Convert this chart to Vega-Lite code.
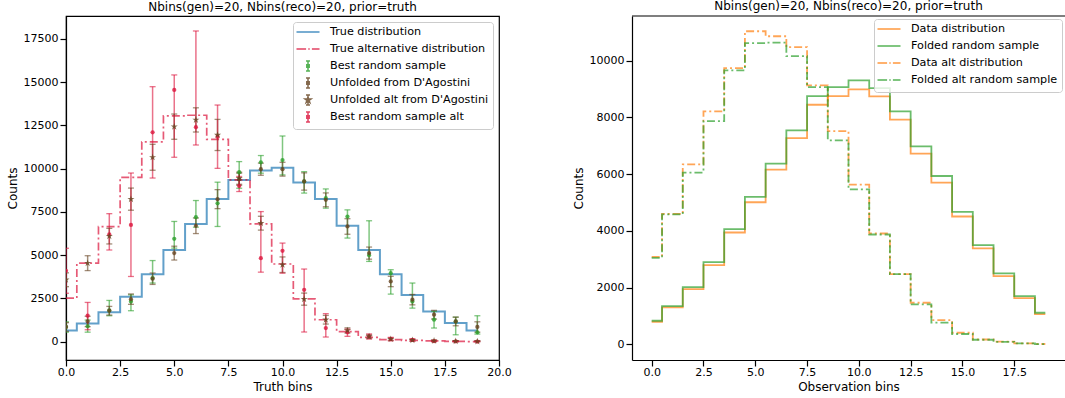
{
"$schema": "https://vega.github.io/schema/vega-lite/v6.json",
"padding": {"left": 5, "right": 0, "top": 0, "bottom": 0},
"spacing": 60,
"resolve": {"scale": {"color": "independent", "shape": "independent"}, "legend": {"color": "independent", "shape": "independent"}},
"config": {
  "font": "DejaVu Sans",
  "view": {"stroke": "black", "strokeWidth": 1.2},
  "axis": {"labelFont": "DejaVu Sans", "labelFontSize": 11, "labelColor": "black", "titleFont": "DejaVu Sans", "titleFontSize": 12, "titleFontWeight": "normal", "titleColor": "black", "tickColor": "black", "tickSize": 6, "tickWidth": 1.2, "domainColor": "black", "domainWidth": 1.2, "grid": false, "labelPadding": 2, "labelFlush": false, "titlePadding": 4},
  "axisX": {"labelPadding": 0},
  "title": {"font": "DejaVu Sans", "fontSize": 12, "fontWeight": "normal", "color": "black", "offset": 2},
  "legend": {"labelFont": "DejaVu Sans", "labelFontSize": 11.2, "labelColor": "black", "symbolStrokeWidth": 1.5, "padding": 4, "rowPadding": 1, "strokeColor": "#cccccc", "fillColor": "rgba(255,255,255,0.8)", "cornerRadius": 3, "labelOffset": 16, "symbolOffset": 5, "symbolSize": 100, "offset": 5, "orient": "top-right", "labelLimit": 0, "symbolOpacity": 0.8}
},
"datasets": {
  "left": [
    {"s": "True distribution", "x": 0, "v": 650}, {"s": "True distribution", "x": 1, "v": 1050}, {"s": "True distribution", "x": 2, "v": 1700}, {"s": "True distribution", "x": 3, "v": 2600}, {"s": "True distribution", "x": 4, "v": 3900}, {"s": "True distribution", "x": 5, "v": 5300}, {"s": "True distribution", "x": 6, "v": 6800}, {"s": "True distribution", "x": 7, "v": 8250}, {"s": "True distribution", "x": 8, "v": 9350}, {"s": "True distribution", "x": 9, "v": 9900}, {"s": "True distribution", "x": 10, "v": 10050}, {"s": "True distribution", "x": 11, "v": 9200}, {"s": "True distribution", "x": 12, "v": 8250}, {"s": "True distribution", "x": 13, "v": 6700}, {"s": "True distribution", "x": 14, "v": 5300}, {"s": "True distribution", "x": 15, "v": 3900}, {"s": "True distribution", "x": 16, "v": 2700}, {"s": "True distribution", "x": 17, "v": 1750}, {"s": "True distribution", "x": 18, "v": 1080}, {"s": "True distribution", "x": 19, "v": 650},
    {"s": "True alternative distribution", "x": 0, "v": 2520}, {"s": "True alternative distribution", "x": 1, "v": 4540}, {"s": "True alternative distribution", "x": 2, "v": 6650}, {"s": "True alternative distribution", "x": 3, "v": 9500}, {"s": "True alternative distribution", "x": 4, "v": 11550}, {"s": "True alternative distribution", "x": 5, "v": 13050}, {"s": "True alternative distribution", "x": 6, "v": 13090}, {"s": "True alternative distribution", "x": 7, "v": 11700}, {"s": "True alternative distribution", "x": 8, "v": 9350}, {"s": "True alternative distribution", "x": 9, "v": 6810}, {"s": "True alternative distribution", "x": 10, "v": 4490}, {"s": "True alternative distribution", "x": 11, "v": 2480}, {"s": "True alternative distribution", "x": 12, "v": 1270}, {"s": "True alternative distribution", "x": 13, "v": 580}, {"s": "True alternative distribution", "x": 14, "v": 250}, {"s": "True alternative distribution", "x": 15, "v": 120}, {"s": "True alternative distribution", "x": 16, "v": 75}, {"s": "True alternative distribution", "x": 17, "v": 45}, {"s": "True alternative distribution", "x": 18, "v": 20}, {"s": "True alternative distribution", "x": 19, "v": 8},
    {"s": "Best random sample", "x": 0, "v": 850, "lo": 550, "hi": 1150}, {"s": "Best random sample", "x": 1, "v": 900, "lo": 550, "hi": 1250}, {"s": "Best random sample", "x": 2, "v": 1810, "lo": 1500, "hi": 2385}, {"s": "Best random sample", "x": 3, "v": 2330, "lo": 1790, "hi": 2710}, {"s": "Best random sample", "x": 4, "v": 3680, "lo": 3390, "hi": 4690}, {"s": "Best random sample", "x": 5, "v": 5950, "lo": 5410, "hi": 6950}, {"s": "Best random sample", "x": 6, "v": 7200, "lo": 6620, "hi": 8160}, {"s": "Best random sample", "x": 7, "v": 8000, "lo": 6660, "hi": 9220}, {"s": "Best random sample", "x": 8, "v": 9800, "lo": 8870, "hi": 10410}, {"s": "Best random sample", "x": 9, "v": 10370, "lo": 9740, "hi": 10760}, {"s": "Best random sample", "x": 10, "v": 10500, "lo": 9640, "hi": 11890}, {"s": "Best random sample", "x": 11, "v": 9260, "lo": 8590, "hi": 9830}, {"s": "Best random sample", "x": 12, "v": 8300, "lo": 7720, "hi": 8830}, {"s": "Best random sample", "x": 13, "v": 7230, "lo": 5990, "hi": 7620}, {"s": "Best random sample", "x": 14, "v": 5000, "lo": 4640, "hi": 6990}, {"s": "Best random sample", "x": 15, "v": 3960, "lo": 2750, "hi": 4160}, {"s": "Best random sample", "x": 16, "v": 2330, "lo": 1940, "hi": 3390}, {"s": "Best random sample", "x": 17, "v": 1270, "lo": 790, "hi": 1750}, {"s": "Best random sample", "x": 18, "v": 1170, "lo": 400, "hi": 1420}, {"s": "Best random sample", "x": 19, "v": 540, "lo": 440, "hi": 1500},
    {"s": "Unfolded from D'Agostini", "x": 0, "v": 850, "lo": 600, "hi": 1100}, {"s": "Unfolded from D'Agostini", "x": 1, "v": 1170, "lo": 870, "hi": 1470}, {"s": "Unfolded from D'Agostini", "x": 2, "v": 1790, "lo": 1540, "hi": 2040}, {"s": "Unfolded from D'Agostini", "x": 3, "v": 2460, "lo": 2160, "hi": 2760}, {"s": "Unfolded from D'Agostini", "x": 4, "v": 3640, "lo": 3310, "hi": 3970}, {"s": "Unfolded from D'Agostini", "x": 5, "v": 5120, "lo": 4720, "hi": 5520}, {"s": "Unfolded from D'Agostini", "x": 6, "v": 6700, "lo": 6250, "hi": 7150}, {"s": "Unfolded from D'Agostini", "x": 7, "v": 8240, "lo": 7690, "hi": 8790}, {"s": "Unfolded from D'Agostini", "x": 8, "v": 9390, "lo": 9040, "hi": 9740}, {"s": "Unfolded from D'Agostini", "x": 9, "v": 9970, "lo": 9620, "hi": 10320}, {"s": "Unfolded from D'Agostini", "x": 10, "v": 9970, "lo": 9570, "hi": 10370}, {"s": "Unfolded from D'Agostini", "x": 11, "v": 9260, "lo": 8760, "hi": 9760}, {"s": "Unfolded from D'Agostini", "x": 12, "v": 8200, "lo": 7800, "hi": 8600}, {"s": "Unfolded from D'Agostini", "x": 13, "v": 6660, "lo": 6210, "hi": 7110}, {"s": "Unfolded from D'Agostini", "x": 14, "v": 5120, "lo": 4770, "hi": 5470}, {"s": "Unfolded from D'Agostini", "x": 15, "v": 3480, "lo": 3180, "hi": 3780}, {"s": "Unfolded from D'Agostini", "x": 16, "v": 2430, "lo": 2130, "hi": 2730}, {"s": "Unfolded from D'Agostini", "x": 17, "v": 1560, "lo": 1310, "hi": 1810}, {"s": "Unfolded from D'Agostini", "x": 18, "v": 1170, "lo": 920, "hi": 1420}, {"s": "Unfolded from D'Agostini", "x": 19, "v": 850, "lo": 550, "hi": 1150},
    {"s": "Unfolded alt from D'Agostini", "x": 0, "v": 3580, "lo": 3180, "hi": 3980}, {"s": "Unfolded alt from D'Agostini", "x": 1, "v": 4540, "lo": 4110, "hi": 4970}, {"s": "Unfolded alt from D'Agostini", "x": 2, "v": 6100, "lo": 5650, "hi": 6550}, {"s": "Unfolded alt from D'Agostini", "x": 3, "v": 8240, "lo": 7600, "hi": 8880}, {"s": "Unfolded alt from D'Agostini", "x": 4, "v": 10660, "lo": 9910, "hi": 11410}, {"s": "Unfolded alt from D'Agostini", "x": 5, "v": 12430, "lo": 11700, "hi": 13160}, {"s": "Unfolded alt from D'Agostini", "x": 6, "v": 12820, "lo": 12120, "hi": 13520}, {"s": "Unfolded alt from D'Agostini", "x": 7, "v": 11950, "lo": 11050, "hi": 12850}, {"s": "Unfolded alt from D'Agostini", "x": 8, "v": 9450, "lo": 9100, "hi": 9800}, {"s": "Unfolded alt from D'Agostini", "x": 9, "v": 6850, "lo": 6450, "hi": 7250}, {"s": "Unfolded alt from D'Agostini", "x": 10, "v": 4450, "lo": 4000, "hi": 4900}, {"s": "Unfolded alt from D'Agostini", "x": 11, "v": 2460, "lo": 2110, "hi": 2810}, {"s": "Unfolded alt from D'Agostini", "x": 12, "v": 1270, "lo": 1020, "hi": 1520}, {"s": "Unfolded alt from D'Agostini", "x": 13, "v": 650, "lo": 500, "hi": 800}, {"s": "Unfolded alt from D'Agostini", "x": 14, "v": 300, "lo": 200, "hi": 400}, {"s": "Unfolded alt from D'Agostini", "x": 15, "v": 150, "lo": 80, "hi": 220}, {"s": "Unfolded alt from D'Agostini", "x": 16, "v": 90, "lo": 40, "hi": 140}, {"s": "Unfolded alt from D'Agostini", "x": 17, "v": 50, "lo": 10, "hi": 90}, {"s": "Unfolded alt from D'Agostini", "x": 18, "v": 30, "lo": 0, "hi": 60}, {"s": "Unfolded alt from D'Agostini", "x": 19, "v": 15, "lo": 0, "hi": 35},
    {"s": "Best random sample alt", "x": 0, "v": 4100, "lo": 2800, "hi": 5400}, {"s": "Best random sample alt", "x": 1, "v": 1500, "lo": 690, "hi": 2270}, {"s": "Best random sample alt", "x": 2, "v": 6200, "lo": 5300, "hi": 7400}, {"s": "Best random sample alt", "x": 3, "v": 6750, "lo": 3770, "hi": 9750}, {"s": "Best random sample alt", "x": 4, "v": 12100, "lo": 9460, "hi": 14740}, {"s": "Best random sample alt", "x": 5, "v": 14550, "lo": 10660, "hi": 15420}, {"s": "Best random sample alt", "x": 6, "v": 12400, "lo": 11370, "hi": 17960}, {"s": "Best random sample alt", "x": 7, "v": 11850, "lo": 10020, "hi": 13680}, {"s": "Best random sample alt", "x": 8, "v": 9000, "lo": 8680, "hi": 9550}, {"s": "Best random sample alt", "x": 9, "v": 4830, "lo": 4020, "hi": 7520}, {"s": "Best random sample alt", "x": 10, "v": 5250, "lo": 3960, "hi": 5700}, {"s": "Best random sample alt", "x": 11, "v": 3000, "lo": 560, "hi": 4200}, {"s": "Best random sample alt", "x": 12, "v": 790, "lo": 270, "hi": 1620}, {"s": "Best random sample alt", "x": 13, "v": 540, "lo": 310, "hi": 730}, {"s": "Best random sample alt", "x": 14, "v": 310, "lo": 150, "hi": 450}, {"s": "Best random sample alt", "x": 15, "v": 150, "lo": 50, "hi": 250}, {"s": "Best random sample alt", "x": 16, "v": 100, "lo": 30, "hi": 170}, {"s": "Best random sample alt", "x": 17, "v": 30, "lo": 0, "hi": 80}, {"s": "Best random sample alt", "x": 18, "v": 20, "lo": 0, "hi": 50}, {"s": "Best random sample alt", "x": 19, "v": 10, "lo": 0, "hi": 40}
  ],
  "leftLegend": [{"s": "True distribution"}, {"s": "True alternative distribution"}, {"s": "Best random sample"}, {"s": "Unfolded from D'Agostini"}, {"s": "Unfolded alt from D'Agostini"}, {"s": "Best random sample alt"}],
  "right": [
    {"s": "Data distribution", "x": 0, "v": 796}, {"s": "Data distribution", "x": 1, "v": 1303}, {"s": "Data distribution", "x": 2, "v": 1947}, {"s": "Data distribution", "x": 3, "v": 2792}, {"s": "Data distribution", "x": 4, "v": 3943}, {"s": "Data distribution", "x": 5, "v": 5011}, {"s": "Data distribution", "x": 6, "v": 6162}, {"s": "Data distribution", "x": 7, "v": 7275}, {"s": "Data distribution", "x": 8, "v": 8450}, {"s": "Data distribution", "x": 9, "v": 8754}, {"s": "Data distribution", "x": 10, "v": 8990}, {"s": "Data distribution", "x": 11, "v": 8743}, {"s": "Data distribution", "x": 12, "v": 7922}, {"s": "Data distribution", "x": 13, "v": 6725}, {"s": "Data distribution", "x": 14, "v": 5704}, {"s": "Data distribution", "x": 15, "v": 4507}, {"s": "Data distribution", "x": 16, "v": 3380}, {"s": "Data distribution", "x": 17, "v": 2405}, {"s": "Data distribution", "x": 18, "v": 1630}, {"s": "Data distribution", "x": 19, "v": 1067},
    {"s": "Folded random sample", "x": 0, "v": 831}, {"s": "Folded random sample", "x": 1, "v": 1349}, {"s": "Folded random sample", "x": 2, "v": 2018}, {"s": "Folded random sample", "x": 3, "v": 2898}, {"s": "Folded random sample", "x": 4, "v": 4060}, {"s": "Folded random sample", "x": 5, "v": 5198}, {"s": "Folded random sample", "x": 6, "v": 6373}, {"s": "Folded random sample", "x": 7, "v": 7546}, {"s": "Folded random sample", "x": 8, "v": 8754}, {"s": "Folded random sample", "x": 9, "v": 9071}, {"s": "Folded random sample", "x": 10, "v": 9306}, {"s": "Folded random sample", "x": 11, "v": 9035}, {"s": "Folded random sample", "x": 12, "v": 8215}, {"s": "Folded random sample", "x": 13, "v": 6982}, {"s": "Folded random sample", "x": 14, "v": 5937}, {"s": "Folded random sample", "x": 15, "v": 4669}, {"s": "Folded random sample", "x": 16, "v": 3496}, {"s": "Folded random sample", "x": 17, "v": 2500}, {"s": "Folded random sample", "x": 18, "v": 1700}, {"s": "Folded random sample", "x": 19, "v": 1113},
    {"s": "Data alt distribution", "x": 0, "v": 3085}, {"s": "Data alt distribution", "x": 1, "v": 4600}, {"s": "Data alt distribution", "x": 2, "v": 6348}, {"s": "Data alt distribution", "x": 3, "v": 8215}, {"s": "Data alt distribution", "x": 4, "v": 9740}, {"s": "Data alt distribution", "x": 5, "v": 11042}, {"s": "Data alt distribution", "x": 6, "v": 10866}, {"s": "Data alt distribution", "x": 7, "v": 10479}, {"s": "Data alt distribution", "x": 8, "v": 9130}, {"s": "Data alt distribution", "x": 9, "v": 7521}, {"s": "Data alt distribution", "x": 10, "v": 5634}, {"s": "Data alt distribution", "x": 11, "v": 3908}, {"s": "Data alt distribution", "x": 12, "v": 2475}, {"s": "Data alt distribution", "x": 13, "v": 1465}, {"s": "Data alt distribution", "x": 14, "v": 856}, {"s": "Data alt distribution", "x": 15, "v": 408}, {"s": "Data alt distribution", "x": 16, "v": 170}, {"s": "Data alt distribution", "x": 17, "v": 92}, {"s": "Data alt distribution", "x": 18, "v": 35}, {"s": "Data alt distribution", "x": 19, "v": 10},
    {"s": "Folded alt random sample", "x": 0, "v": 3050}, {"s": "Folded alt random sample", "x": 1, "v": 4580}, {"s": "Folded alt random sample", "x": 2, "v": 6056}, {"s": "Folded alt random sample", "x": 3, "v": 7873}, {"s": "Folded alt random sample", "x": 4, "v": 9659}, {"s": "Folded alt random sample", "x": 5, "v": 10620}, {"s": "Folded alt random sample", "x": 6, "v": 10640}, {"s": "Folded alt random sample", "x": 7, "v": 10162}, {"s": "Folded alt random sample", "x": 8, "v": 9071}, {"s": "Folded alt random sample", "x": 9, "v": 7194}, {"s": "Folded alt random sample", "x": 10, "v": 5468}, {"s": "Folded alt random sample", "x": 11, "v": 3873}, {"s": "Folded alt random sample", "x": 12, "v": 2475}, {"s": "Folded alt random sample", "x": 13, "v": 1408}, {"s": "Folded alt random sample", "x": 14, "v": 761}, {"s": "Folded alt random sample", "x": 15, "v": 363}, {"s": "Folded alt random sample", "x": 16, "v": 160}, {"s": "Folded alt random sample", "x": 17, "v": 85}, {"s": "Folded alt random sample", "x": 18, "v": 30}, {"s": "Folded alt random sample", "x": 19, "v": 8}
  ],
  "rightLegend": [{"s": "Data distribution"}, {"s": "Folded random sample"}, {"s": "Data alt distribution"}, {"s": "Folded alt random sample"}]
},
"hconcat": [
  {
    "width": 433, "height": 344,
    "title": {"text": "Nbins(gen)=20, Nbins(reco)=20, prior=truth"},
    "layer": [
      {"data": {"name": "left"}, "transform": [{"filter": {"field": "s", "equal": "True distribution"}}],
       "mark": {"type": "line", "interpolate": "step", "strokeWidth": 2, "opacity": 0.7, "clip": true},
       "encoding": {
         "x": {"field": "x", "type": "quantitative", "scale": {"domain": [0, 20], "nice": false, "zero": false}, "axis": {"values": [0, 2.5, 5, 7.5, 10, 12.5, 15, 17.5, 20], "format": ".1f"}, "title": "Truth bins"},
         "y": {"field": "v", "type": "quantitative", "scale": {"domain": [-1058, 18826], "nice": false, "zero": false}, "axis": {"values": [0, 2500, 5000, 7500, 10000, 12500, 15000, 17500], "format": "d"}, "title": "Counts"},
         "color": {"field": "s", "type": "nominal", "scale": {"domain": ["True distribution", "True alternative distribution", "Best random sample", "Unfolded from D'Agostini", "Unfolded alt from D'Agostini", "Best random sample alt"], "range": ["#1f77b4", "#dc143c", "#2ca02c", "#654321", "#654321", "#dc143c"]}}
       }},
      {"data": {"name": "left"}, "transform": [{"filter": {"field": "s", "equal": "True alternative distribution"}}],
       "mark": {"type": "line", "interpolate": "step", "strokeWidth": 1.7, "opacity": 0.7, "strokeDash": [8, 3, 2, 3], "clip": true},
       "encoding": {
         "x": {"field": "x", "type": "quantitative", "title": "Truth bins"},
         "y": {"field": "v", "type": "quantitative", "title": "Counts"},
         "color": {"field": "s", "type": "nominal"}
       }},
      {"data": {"name": "left"}, "transform": [{"filter": "isValid(datum.lo)"}],
       "mark": {"type": "rule", "strokeWidth": 1.5, "opacity": 0.6, "clip": true},
       "encoding": {
         "x": {"field": "x", "type": "quantitative", "title": "Truth bins"},
         "y": {"field": "lo", "type": "quantitative", "title": "Counts"},
         "y2": {"field": "hi"},
         "color": {"field": "s", "type": "nominal"}
       }},
      {"data": {"name": "left"}, "transform": [{"filter": "isValid(datum.lo)"}],
       "mark": {"type": "tick", "orient": "horizontal", "size": 6, "thickness": 1.3, "opacity": 0.6, "clip": true},
       "encoding": {
         "x": {"field": "x", "type": "quantitative", "title": "Truth bins"},
         "y": {"field": "lo", "type": "quantitative", "title": "Counts"},
         "color": {"field": "s", "type": "nominal"}
       }},
      {"data": {"name": "left"}, "transform": [{"filter": "isValid(datum.lo)"}],
       "mark": {"type": "tick", "orient": "horizontal", "size": 6, "thickness": 1.3, "opacity": 0.6, "clip": true},
       "encoding": {
         "x": {"field": "x", "type": "quantitative", "title": "Truth bins"},
         "y": {"field": "hi", "type": "quantitative", "title": "Counts"},
         "color": {"field": "s", "type": "nominal"}
       }},
      {"data": {"name": "left"}, "transform": [{"filter": {"field": "s", "oneOf": ["Best random sample", "Unfolded from D'Agostini", "Best random sample alt"]}}],
       "mark": {"type": "point", "filled": true, "shape": "circle", "size": 18, "opacity": 0.8, "clip": true},
       "encoding": {
         "x": {"field": "x", "type": "quantitative", "title": "Truth bins"},
         "y": {"field": "v", "type": "quantitative", "title": "Counts"},
         "color": {"field": "s", "type": "nominal"}
       }},
      {"data": {"name": "left"}, "transform": [{"filter": {"field": "s", "equal": "Unfolded alt from D'Agostini"}}],
       "mark": {"type": "point", "filled": true, "shape": "M0,-1L0.2245,-0.309L0.9511,-0.309L0.3633,0.118L0.5878,0.809L0,0.382L-0.5878,0.809L-0.3633,0.118L-0.9511,-0.309L-0.2245,-0.309Z", "size": 55, "opacity": 0.8, "clip": true},
       "encoding": {
         "x": {"field": "x", "type": "quantitative", "title": "Truth bins"},
         "y": {"field": "v", "type": "quantitative", "title": "Counts"},
         "color": {"field": "s", "type": "nominal"}
       }},
      {"data": {"name": "leftLegend"},
       "mark": {"type": "point", "filled": false, "opacity": 0},
       "encoding": {
         "color": {"field": "s", "type": "nominal", "legend": {"title": null, "orient": "top-right", "offset": 6, "encode": {"symbols": {"strokeWidth": {"value": 1.5}}}}},
         "shape": {"field": "s", "type": "nominal", "scale": {"domain": ["True distribution", "True alternative distribution", "Best random sample", "Unfolded from D'Agostini", "Unfolded alt from D'Agostini", "Best random sample alt"], "range": ["M-2.3,0H2.3M0,-1L0,-1M0,1L0,1", "M-2.3,0H-0.38M0.06,0H0.34M0.78,0H2.3M0,-1L0,-1M0,1L0,1", "M0,-1V1M-0.4,-1H0.4M-0.4,1H0.4M-0.24,-0.24H0.24V0.24H-0.24Z", "M0,-1V1M-0.4,-1H0.4M-0.4,1H0.4M-0.24,-0.24H0.24V0.24H-0.24Z", "M0,-1V1M-0.4,-1H0.4M-0.4,1H0.4M0,-0.62L0.139,-0.192L0.59,-0.192L0.225,0.073L0.365,0.502L0,0.237L-0.365,0.502L-0.225,0.073L-0.59,-0.192L-0.139,-0.192Z", "M0,-1V1M-0.4,-1H0.4M-0.4,1H0.4M-0.24,-0.24H0.24V0.24H-0.24Z"]}, "legend": {"title": null, "orient": "top-right", "offset": 6}}
       }}
    ]
  },
  {
    "width": 433, "height": 344,
    "view": {"stroke": null},
    "title": {"text": "Nbins(gen)=20, Nbins(reco)=20, prior=truth"},
    "layer": [
      {"data": {"name": "right"}, "transform": [{"filter": {"field": "s", "oneOf": ["Data distribution", "Folded random sample"]}}],
       "mark": {"type": "line", "interpolate": "step", "strokeWidth": 1.8, "opacity": 0.7, "clip": true},
       "encoding": {
         "x": {"field": "x", "type": "quantitative", "scale": {"domain": [-0.95, 19.95], "nice": false, "zero": false}, "axis": {"values": [0, 2.5, 5, 7.5, 10, 12.5, 15, 17.5], "format": ".1f"}, "title": "Observation bins"},
         "y": {"field": "v", "type": "quantitative", "scale": {"domain": [-554, 11580], "nice": false, "zero": false}, "axis": {"values": [0, 2000, 4000, 6000, 8000, 10000], "format": "d"}, "title": "Counts"},
         "color": {"field": "s", "type": "nominal", "scale": {"domain": ["Data distribution", "Folded random sample", "Data alt distribution", "Folded alt random sample"], "range": ["#ff7f0e", "#2ca02c", "#ff7f0e", "#2ca02c"]}}
       }},
      {"data": {"name": "right"}, "transform": [{"filter": {"field": "s", "oneOf": ["Data alt distribution", "Folded alt random sample"]}}],
       "mark": {"type": "line", "interpolate": "step", "strokeWidth": 1.8, "opacity": 0.7, "strokeDash": [8, 3, 2, 3], "clip": true},
       "encoding": {
         "x": {"field": "x", "type": "quantitative", "title": "Observation bins"},
         "y": {"field": "v", "type": "quantitative", "title": "Counts"},
         "color": {"field": "s", "type": "nominal"}
       }},
      {"data": {"values": [{}]},
       "mark": {"type": "rule", "color": "black", "strokeWidth": 1.2},
       "encoding": {"y": {"datum": 11580, "type": "quantitative"}}},
      {"data": {"name": "rightLegend"},
       "mark": {"type": "point", "filled": false, "opacity": 0},
       "encoding": {
         "color": {"field": "s", "type": "nominal", "legend": {"title": null, "orient": "top-right", "offset": 3, "encode": {"symbols": {"strokeWidth": {"value": 1.5}}}}},
         "shape": {"field": "s", "type": "nominal", "scale": {"domain": ["Data distribution", "Folded random sample", "Data alt distribution", "Folded alt random sample"], "range": ["M-2.3,0H2.3M0,-1L0,-1M0,1L0,1", "M-2.3,0H2.3M0,-1L0,-1M0,1L0,1", "M-2.3,0H-0.38M0.06,0H0.34M0.78,0H2.3M0,-1L0,-1M0,1L0,1", "M-2.3,0H-0.38M0.06,0H0.34M0.78,0H2.3M0,-1L0,-1M0,1L0,1"]}, "legend": {"title": null, "orient": "top-right", "offset": 3}}
       }}
    ]
  }
]
}
